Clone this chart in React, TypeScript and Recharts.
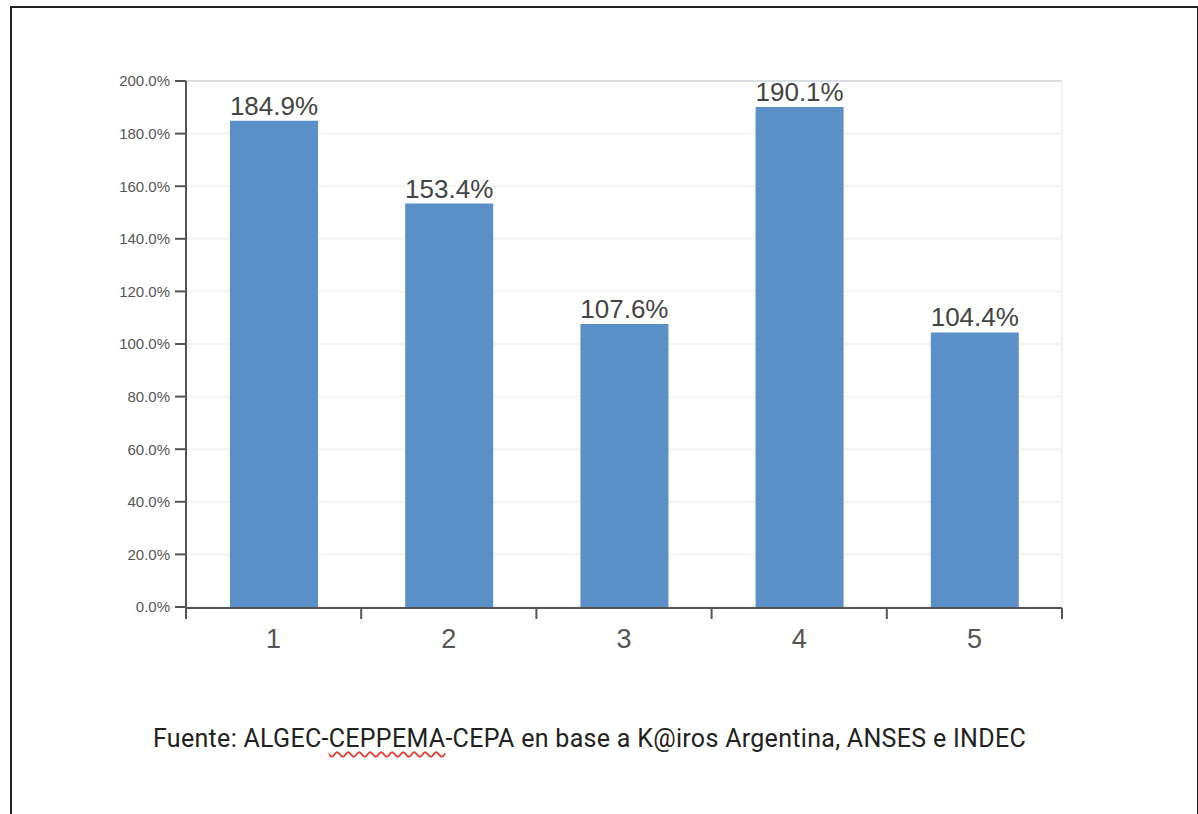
import React from "react";
import {
  BarChart,
  Bar,
  XAxis,
  YAxis,
  CartesianGrid,
  LabelList,
  ReferenceLine,
} from "recharts";

const categories = ["1", "2", "3", "4", "5"];
const values = [184.9, 153.4, 107.6, 190.1, 104.4];
const yTicks = [0, 20, 40, 60, 80, 100, 120, 140, 160, 180, 200];
const boundaryTicks = [-0.5, 0.5, 1.5, 2.5, 3.5, 4.5];
const sourceBefore = "Fuente: ALGEC-";
const sourceMarked = "CEPPEMA";
const sourceAfter = "-CEPA en base a K@iros Argentina, ANSES e INDEC";

const data = categories.map((name, i) => ({ name, idx: i, value: values[i] }));

const pct = (v: number) => `${Number(v).toFixed(1)}%`;

export default function App() {
  return (
    <div
      style={{
        position: "absolute",
        left: 0,
        top: 0,
        width: 1198,
        height: 814,
        overflow: "hidden",
        background: "#fff",
      }}
    >
      <div
        style={{
          position: "absolute",
          left: 10,
          top: 6,
          width: 1185,
          height: 808,
          borderTop: "2px solid #222",
          borderLeft: "2px solid #222",
          borderRight: "2px solid #222",
        }}
      />
      <div style={{ position: "absolute", left: 0, top: 0 }}>
        <BarChart
          width={1198}
          height={814}
          data={data}
          margin={{ top: 81, right: 136, bottom: 205, left: 106 }}
        >
          <CartesianGrid vertical={false} stroke="#f1f1f1" strokeWidth={1.5} />
          <ReferenceLine y={200} stroke="#d9dee5" strokeWidth={2} />
          <XAxis
            xAxisId="grid"
            type="number"
            dataKey="idx"
            domain={[-0.5, 4.5]}
            ticks={boundaryTicks}
            height={1}
            tickFormatter={() => ""}
            tick={{ fontSize: 1 }}
            tickSize={11}
            axisLine={{ stroke: "#555", strokeWidth: 2 }}
            tickLine={{ stroke: "#555", strokeWidth: 2 }}
          />
          <XAxis
            xAxisId="cat"
            dataKey="name"
            height={1}
            axisLine={false}
            tickLine={false}
            tickSize={0}
            tickMargin={22}
            tick={{ fontSize: 27, fill: "#555", fontFamily: "Liberation Sans, Arial, sans-serif" }}
          />
          <ReferenceLine xAxisId="grid" x={4.5} stroke="#ececec" strokeWidth={1.5} />
          <YAxis
            width={80}
            domain={[0, 200]}
            ticks={yTicks}
            tickFormatter={pct}
            tickSize={11}
            tickMargin={5}
            axisLine={{ stroke: "#555", strokeWidth: 2 }}
            tickLine={{ stroke: "#555", strokeWidth: 2 }}
            tick={{ fontSize: 15, fill: "#555", fontFamily: "Liberation Sans, Arial, sans-serif" }}
          />
          <Bar
            xAxisId="cat"
            dataKey="value"
            fill="#5b8fc7"
            barSize={88}
            isAnimationActive={false}
          >
            <LabelList
              dataKey="value"
              position="top"
              offset={6}
              formatter={pct}
              style={{ fontSize: 26, fill: "#444", fontFamily: "Liberation Sans, Arial, sans-serif" }}
            />
          </Bar>
        </BarChart>
      </div>
      <div
        style={{
          position: "absolute",
          left: 153,
          top: 724,
          fontFamily: "Roboto, sans-serif",
          fontSize: 25,
          letterSpacing: 0.3,
          color: "#222",
          whiteSpace: "nowrap",
        }}
      >
        {sourceBefore}
        <span
          style={{
            textDecoration: "underline wavy #e0443a",
            textDecorationThickness: 1.5,
            textUnderlineOffset: 4,
          }}
        >
          {sourceMarked}
        </span>
        {sourceAfter}
      </div>
    </div>
  );
}
